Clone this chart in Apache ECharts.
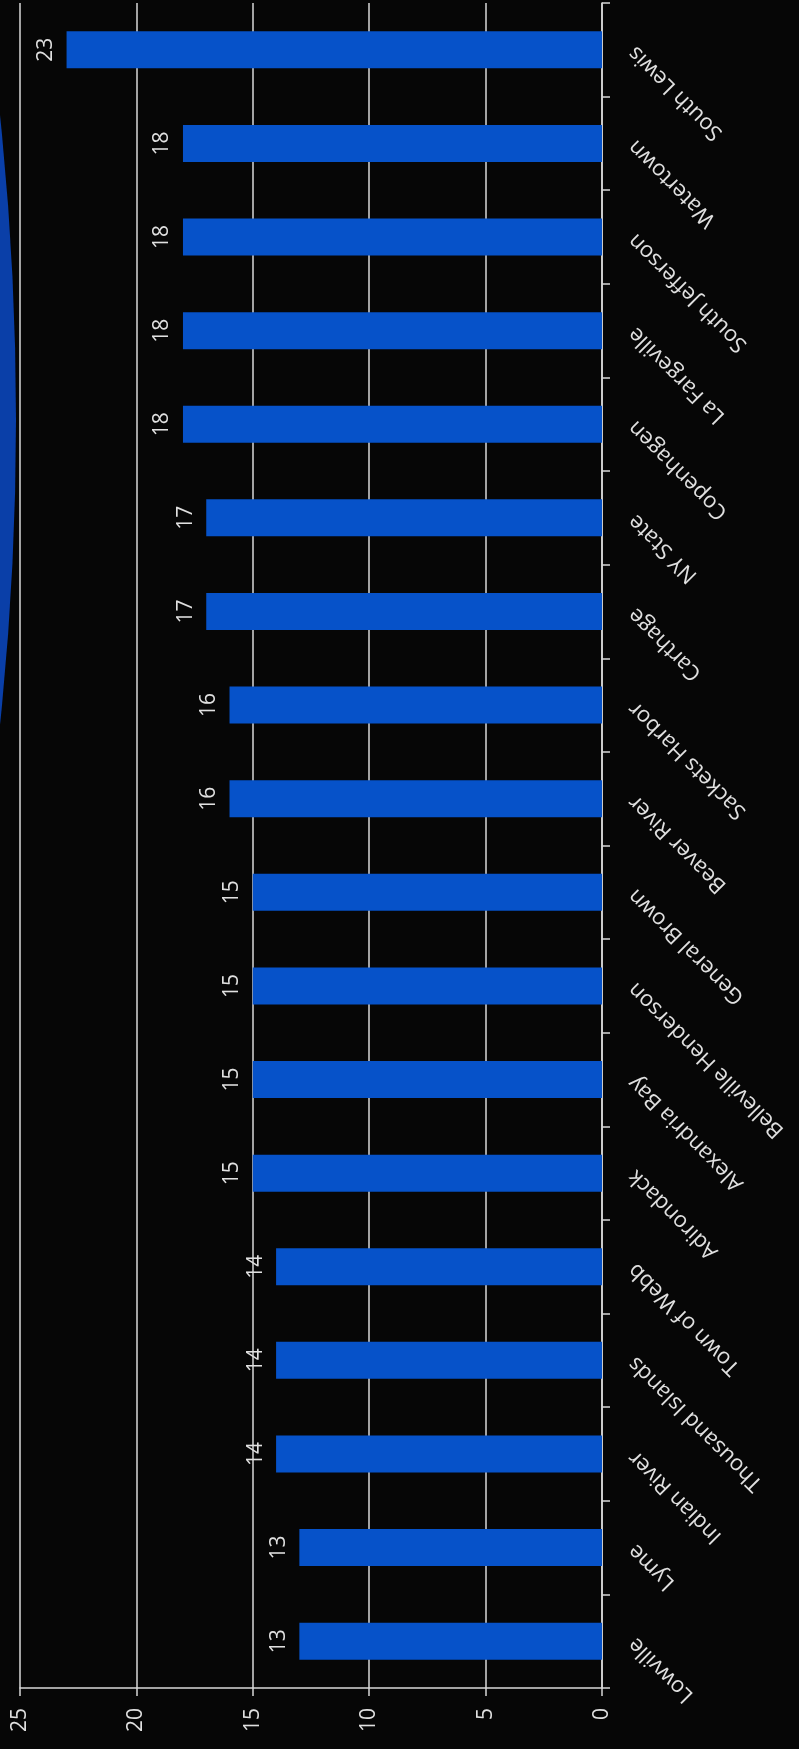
<!DOCTYPE html>
<html>
<head>
<meta charset="utf-8">
<script src="https://cdn.jsdelivr.net/npm/echarts@6/dist/echarts.min.js"></script>
<style>
html,body{margin:0;padding:0;background:#060606;}
#chart{width:799px;height:1749px;}
</style>
</head>
<body>
<div id="chart"></div>
<script>
// Categories listed from bottom (first) to top (last)
var categories = ["Lowville","Lyme","Indian River","Thousand Islands","Town of Webb","Adirondack","Alexandria Bay","Belleville Henderson","General Brown","Beaver River","Sackets Harbor","Carthage","NY State","Copenhagen","La Fargeville","South Jefferson","Watertown","South Lewis"];
var values = [13,13,14,14,14,15,15,15,15,16,16,17,17,18,18,18,18,23];
var valueTicks = [0,5,10,15,20,25];

var chart = echarts.init(document.getElementById('chart'));
var txt = '#e0e0e0';
var lineC = '#d8d8d8';
var font = 'Open Sans';
chart.setOption({
  backgroundColor: '#060606',
  animation: false,
  grid: {left: 20, right: 197, top: 3, bottom: 61, containLabel: false},
  xAxis: {
    type: 'value', inverse: true, position: 'bottom',
    min: valueTicks[0], max: valueTicks[valueTicks.length-1], interval: 5,
    axisLine: {show: true, lineStyle: {color: lineC, width: 1.5}},
    axisTick: {show: true, length: 8, lineStyle: {color: lineC, width: 1.5}},
    splitLine: {show: true, lineStyle: {color: lineC, width: 1.5}},
    axisLabel: {rotate: 90, margin: 20, color: txt, fontSize: 21, fontFamily: font}
  },
  yAxis: {
    type: 'category', position: 'right', data: categories,
    axisLine: {show: true, lineStyle: {color: lineC, width: 1.5}},
    axisTick: {show: true, length: 8, lineStyle: {color: lineC, width: 1.5}},
    splitLine: {show: false},
    axisLabel: {rotate: 135, margin: 30, color: txt, fontSize: 22, fontFamily: font, interval: 0}
  },
  graphic: [{
    type: 'circle', z: -1,
    shape: {cx: -2899, cy: 420, r: 2915},
    style: {fill: '#0a3fa8'}
  }],
  series: [{
    type: 'bar', data: values, barWidth: 37,
    itemStyle: {color: '#0652c9'},
    label: {show: true, position: 'left', rotate: 90, align: 'center', verticalAlign: 'bottom', distance: 10,
      color: txt, fontSize: 21, fontFamily: font}
  }]
});
</script>
</body>
</html>
